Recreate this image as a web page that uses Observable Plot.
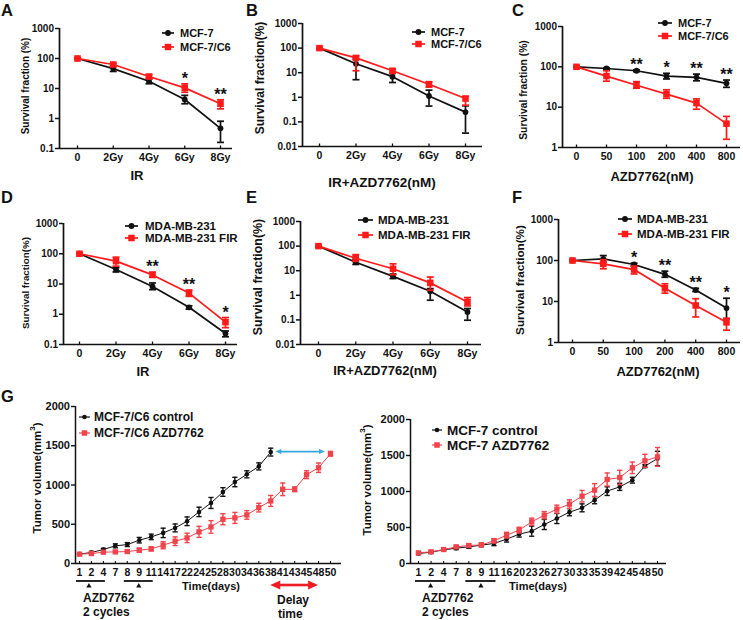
<!DOCTYPE html>
<html><head><meta charset="utf-8">
<script src="https://cdn.jsdelivr.net/npm/d3@7"></script>
<script src="https://cdn.jsdelivr.net/npm/@observablehq/plot@0.6"></script>
<style>
html,body{margin:0;padding:0;background:#fff;}
#fig{position:relative;width:743px;height:620px;overflow:hidden;background:#fff;}
#fig svg{position:absolute;overflow:visible;}
</style></head><body><div id="fig"></div>
<script>
// ---------------- DATA ----------------
const irDoses = ["0", "2Gy", "4Gy", "6Gy", "8Gy"];
const azdDoses = ["0", "50", "100", "200", "400", "800"];
const yTicks01 = [0.1, 1, 10, 100, 1000];
const yTicks001 = [0.01, 0.1, 1, 10, 100, 1000];
const yTicks1 = [1, 10, 100, 1000];
const volTicks = [0, 500, 1000, 1500, 2000];

// A: IR, MCF-7 vs MCF-7/C6
const aMcf7 = [100, 46, 17.5, 4.3, 0.47];
const aMcf7Lo = [96, 37, 14.4, 3.1, 0.16];
const aMcf7Hi = [104, 55, 20.5, 5.9, 0.81];
const aC6 = [100, 63, 25, 10.5, 3.1];
const aC6Lo = [96, 57, 22, 7.5, 2.1];
const aC6Hi = [104, 69, 29, 14.3, 4.2];
const aSig = ["", "", "", "*", "**"];

// B: IR + AZD7762
const bMcf7 = [100, 23, 6.9, 1.13, 0.25];
const bMcf7Lo = [96, 5.2, 4.0, 0.44, 0.035];
const bMcf7Hi = [104, 36, 9.4, 1.95, 0.45];
const bC6 = [100, 40, 12, 3.4, 0.89];
const bC6Lo = [96, 12, 9.4, 2.6, 0.48];
const bC6Hi = [104, 48, 14, 4.3, 1.07];

// C: AZD7762 alone
const cMcf7 = [100, 91, 80, 59, 55, 39];
const cMcf7Lo = [97, 87, 76, 50, 45, 31];
const cMcf7Hi = [103, 95, 84, 69, 66, 47];
const cC6 = [100, 59, 35, 21, 12.6, 3.9];
const cC6Lo = [96, 44, 29.5, 16.6, 8.9, 1.6];
const cC6Hi = [104, 80, 43, 27, 16, 5.9];
const cSig = ["", "", "**", "*", "**", "**"];

// D: IR, MDA-MB-231 vs FIR
const dMda = [100, 30, 8.3, 1.7, 0.23];
const dMdaLo = [96, 25, 6.5, 1.47, 0.18];
const dMdaHi = [104, 35, 10.8, 1.9, 0.28];
const dFir = [100, 57, 20, 5, 0.55];
const dFirLo = [96, 39, 16.7, 3.9, 0.36];
const dFirHi = [104, 77, 24.5, 6.3, 0.78];
const dSig = ["", "", "**", "**", "*"];

// E: IR + AZD7762
const eMda = [100, 22, 5.9, 1.45, 0.21];
const eMdaLo = [96, 18, 4.8, 0.63, 0.097];
const eMdaHi = [104, 29, 7.3, 1.87, 0.29];
const eFir = [100, 32, 12, 3.2, 0.54];
const eFirLo = [96, 24, 6.9, 1.6, 0.37];
const eFirHi = [104, 45, 19, 5.5, 0.81];

// F: AZD7762 alone
const fMda = [100, 110, 80, 46, 19, 6.9];
const fMdaLo = [97, 91, 73, 39, 17.5, 3.8];
const fMdaHi = [103, 132, 86, 55, 21, 12];
const fFir = [100, 83, 60, 21, 8, 3.1];
const fFirLo = [96, 63, 47, 16, 4.2, 2];
const fFirHi = [104, 105, 73, 27, 11.7, 3.9];
const fSig = ["", "", "*", "**", "**", "*"];

// G left: MCF-7/C6 xenograft
const g1Days = ["1","2","4","7","8","9","11","14","17","22","24","25","28","30","34","36","38","41","43","45","48","50"];
const g1Control = [120, 140, 178, 225, 241, 297, 339, 390, 453, 538, 657, 771, 911, 1038, 1136, 1237, 1419];
const g1ControlErr = [10, 15, 15, 25, 25, 35, 35, 60, 50, 55, 60, 70, 55, 60, 45, 45, 50];
const g1Azd = [119, 127, 144, 148, 152, 170, 186, 233, 284, 326, 403, 466, 564, 581, 619, 712, 797, 945, 945, 1131, 1220, 1398];
const g1AzdErr = [10, 15, 15, 15, 15, 25, 25, 45, 55, 60, 70, 80, 70, 70, 55, 55, 70, 80, 30, 50, 60, 30];

// G right: MCF-7 xenograft
const g2Days = ["1","2","4","7","8","9","11","16","20","23","26","27","30","33","35","39","42","45","48","50"];
const g2Control = [139, 157, 190, 213, 231, 255, 278, 338, 407, 449, 542, 625, 713, 773, 880, 1005, 1065, 1157, 1352, 1458];
const g2ControlErr = [15, 15, 15, 20, 20, 20, 30, 40, 40, 70, 70, 70, 50, 55, 50, 60, 50, 40, 20, 100];
const g2Azd = [148, 162, 194, 231, 250, 259, 315, 393, 463, 579, 671, 755, 824, 935, 1019, 1167, 1194, 1329, 1426, 1481];
const g2AzdErr = [15, 15, 15, 20, 20, 25, 30, 40, 40, 50, 50, 55, 60, 80, 90, 90, 100, 80, 90, 130];

// ---------------- STYLE ----------------
const FONT = '"Liberation Sans", Arial, Helvetica, sans-serif';
const RED = "#ff1a1a";
const GRED = "#f0434b";
const BLK = "#111";
const fig = document.getElementById("fig");

const upTick = {draw(ctx, size) { const r = Math.sqrt(size / Math.PI); ctx.moveTo(0, 0); ctx.lineTo(0, -r); }};
const capSym = {draw(ctx, size) { const r = Math.sqrt(size / Math.PI); ctx.moveTo(-r, 0); ctx.lineTo(r, 0); }};

function rowsOf(v, lo, hi) { return v.map((d, i) => ({i, v: d, lo: lo[i], hi: hi[i]})); }

function seriesMarks(rows, color, kind, o) {
  return [
    Plot.line(rows, {x: "i", y: "v", stroke: color, strokeWidth: o.lw}),
    Plot.ruleX(rows, {x: "i", y1: "lo", y2: "hi", stroke: color, strokeWidth: o.ew}),
    Plot.dot(rows, {x: "i", y: "lo", symbol: capSym, r: o.cap, stroke: color, strokeWidth: o.ew, fill: "none"}),
    Plot.dot(rows, {x: "i", y: "hi", symbol: capSym, r: o.cap, stroke: color, strokeWidth: o.ew, fill: "none"}),
    kind === "circle"
      ? Plot.dot(rows, {x: "i", y: "v", r: o.dot, fill: color, stroke: "none"})
      : Plot.dot(rows, {x: "i", y: "v", symbol: "square", r: o.sq, fill: color, stroke: "none"})
  ];
}

function place(svg, cell) {
  svg.style.left = cell.x + "px";
  svg.style.top = cell.y + "px";
  fig.appendChild(svg);
}

function frameOpts(cell, geo, n) {
  const step = (geo.xLast - geo.xFirst) / (n - 1);
  const d0 = -(geo.xFirst - geo.yAxis) / step;
  const d1 = (n - 1) + (geo.xEnd - geo.xLast) / step;
  return {
    d0, d1,
    opts: {
      width: cell.w, height: cell.h,
      marginLeft: geo.yAxis - cell.x,
      marginRight: cell.x + cell.w - geo.xEnd,
      marginTop: geo.yTop - cell.y,
      marginBottom: cell.y + cell.h - geo.yBot,
      style: {fontFamily: FONT, fontWeight: "bold", fontSize: "10px", color: BLK, background: "none", overflow: "visible"}
    }
  };
}

function survival(cell, geo, cats, yTicks, s1, s2, sig) {
  const n = cats.length;
  const {d0, d1, opts} = frameOpts(cell, geo, n);
  const r1 = rowsOf(...s1), r2 = rowsOf(...s2);
  const idx = cats.map((c, i) => i);
  const yMin = yTicks[0];
  const stars = sig ? idx.filter(i => sig[i]).map(i => ({i, t: sig[i], y: Math.max(r1[i].hi, r2[i].hi)})) : [];
  const o = {lw: 1.7, ew: 1.7, cap: 3.5, dot: 2.9, sq: 3.7};
  const svg = Plot.plot({
    ...opts,
    x: {domain: [d0, d1]},
    y: {type: "log", domain: [yMin, yTicks[yTicks.length - 1]]},
    marks: [
      Plot.ruleY([yMin], {stroke: BLK, strokeWidth: 1.7}),
      Plot.ruleX([d0], {stroke: BLK, strokeWidth: 1.7}),
      Plot.axisY(yTicks, {tickSize: 4, tickPadding: 1.5, strokeWidth: 1.5, tickFormat: d => String(d), label: null, fontSize: 10}),
      Plot.axisX(idx, {tickSize: 0, tickPadding: 5.5, tickFormat: i => cats[i], label: null, fontSize: 10.5}),
      Plot.dot(idx, {x: d => d, y: () => yMin, symbol: upTick, r: 3, stroke: BLK, strokeWidth: 1.3, fill: "none"}),
      ...seriesMarks(r1, BLK, "circle", o),
      ...seriesMarks(r2, RED, "square", o),
      Plot.text(stars, {x: "i", y: "y", text: "t", dy: -5, fontSize: 16, fontWeight: "bold", fill: BLK, lineAnchor: "middle"})
    ]
  });
  place(svg, cell);
  return svg;
}

function growth(cell, geo, days, ctl, ctlErr, azd, azdErr) {
  const n = days.length;
  const {d0, d1, opts} = frameOpts(cell, geo, n);
  const idx = days.map((d, i) => i);
  const r1 = ctl.map((v, i) => ({i, v, lo: v - ctlErr[i], hi: v + ctlErr[i]}));
  const r2 = azd.map((v, i) => ({i, v, lo: v - azdErr[i], hi: v + azdErr[i]}));
  const o1 = {lw: 1, ew: 1.4, cap: 2.6, dot: 2.3};
  const o2 = {lw: 1, ew: 1.4, cap: 2.6, sq: 3.0};
  const plot = Plot.plot({
    ...opts,
    x: {domain: [d0, d1]},
    y: {domain: [volTicks[0], volTicks[volTicks.length - 1]]},
    marks: [
      Plot.ruleY([volTicks[0]], {stroke: BLK, strokeWidth: 1.5}),
      Plot.ruleX([d0], {stroke: BLK, strokeWidth: 1.5}),
      Plot.axisY(volTicks, {tickSize: 4, tickPadding: 1.5, strokeWidth: 1.4, label: null, fontSize: 11, tickFormat: d => String(d)}),
      Plot.axisX(idx, {tickSize: 0, tickPadding: 5, tickFormat: i => days[i], label: null, fontSize: 10.5}),
      Plot.dot(idx, {x: d => d, y: () => volTicks[0], symbol: upTick, r: 2.5, stroke: BLK, strokeWidth: 1.1, fill: "none"}),
      ...seriesMarks(r1, BLK, "circle", o1),
      ...seriesMarks(r2, GRED, "square", o2)
    ]
  });
  place(plot, cell);
  return plot;
}

// ---------------- PANELS ----------------
survival({x: 0, y: 0, w: 245, h: 195}, {yAxis: 59, yTop: 28, yBot: 148, xFirst: 77, xLast: 220, xEnd: 232},
  irDoses, yTicks01, [aMcf7, aMcf7Lo, aMcf7Hi], [aC6, aC6Lo, aC6Hi], aSig);
survival({x: 245, y: 0, w: 245, h: 195}, {yAxis: 302, yTop: 23, yBot: 146, xFirst: 319, xLast: 465, xEnd: 482},
  irDoses, yTicks001, [bMcf7, bMcf7Lo, bMcf7Hi], [bC6, bC6Lo, bC6Hi], null);
survival({x: 490, y: 0, w: 253, h: 195}, {yAxis: 562, yTop: 26, yBot: 147, xFirst: 576, xLast: 726, xEnd: 740},
  azdDoses, yTicks1, [cMcf7, cMcf7Lo, cMcf7Hi], [cC6, cC6Lo, cC6Hi], cSig);
survival({x: 0, y: 195, w: 245, h: 195}, {yAxis: 63, yTop: 223, yBot: 344, xFirst: 79, xLast: 225, xEnd: 237},
  irDoses, yTicks01, [dMda, dMdaLo, dMdaHi], [dFir, dFirLo, dFirHi], dSig);
survival({x: 245, y: 195, w: 245, h: 195}, {yAxis: 300, yTop: 221, yBot: 344, xFirst: 318, xLast: 467, xEnd: 481},
  irDoses, yTicks001, [eMda, eMdaLo, eMdaHi], [eFir, eFirLo, eFirHi], null);
survival({x: 490, y: 195, w: 253, h: 195}, {yAxis: 558, yTop: 219, yBot: 342, xFirst: 572, xLast: 726, xEnd: 740},
  azdDoses, yTicks1, [fMda, fMdaLo, fMdaHi], [fFir, fFirLo, fFirHi], fSig);

const cellG1 = {x: 0, y: 390, w: 370, h: 230};
const cellG2 = {x: 370, y: 390, w: 373, h: 230};
const pG1 = growth(cellG1, {yAxis: 75, yTop: 406, yBot: 563, xFirst: 79, xLast: 330, xEnd: 341},
  g1Days, g1Control, g1ControlErr, g1Azd, g1AzdErr);
const pG2 = growth(cellG2, {yAxis: 410, yTop: 419, yBot: 563, xFirst: 418, xLast: 657, xEnd: 666},
  g2Days, g2Control, g2ControlErr, g2Azd, g2AzdErr);

// ---------------- ANNOTATIONS ----------------
const ov = d3.select(fig).append("svg").attr("width", 743).attr("height", 620)
  .style("left", "0px").style("top", "0px")
  .style("font-family", FONT).style("font-weight", "bold").attr("fill", BLK);

function txt(t, x, y, size, anchor = "start", base = "auto") {
  return ov.append("text").attr("x", x).attr("y", y).attr("font-size", size)
    .attr("text-anchor", anchor).attr("dominant-baseline", base).text(t);
}
function vtxt(t, x, y, size) {
  return ov.append("text").attr("transform", `translate(${x},${y}) rotate(-90)`)
    .attr("font-size", size).attr("text-anchor", "middle").attr("dominant-baseline", "central").text(t);
}

// panel letters
[["A", 1, 16], ["B", 246, 16], ["C", 512, 16], ["D", 1, 203], ["E", 246, 203], ["F", 512, 203], ["G", 1, 402]]
  .forEach(([t, x, y]) => txt(t, x, y, 16.5));

// y labels
vtxt("Survival fraction (%)", 25, 86, 10);
vtxt("Survival fraction(%)", 260, 78, 12);
vtxt("Survival fraction (%)", 523, 90, 10.3);
vtxt("Survival fraction(%)", 25, 283, 9.8);
vtxt("Survival fraction(%)", 258, 277, 12.4);
vtxt("Survival fraction(%)", 519, 280, 11.7);
function volLabel(x, y, size) {
  const t = ov.append("text").attr("transform", `translate(${x},${y}) rotate(-90)`)
    .attr("font-size", size).attr("text-anchor", "middle").attr("dominant-baseline", "central");
  t.append("tspan").text("Tumor volume(mm");
  t.append("tspan").attr("font-size", size * 0.7).attr("dy", -size * 0.4).text("3");
  t.append("tspan").attr("dy", size * 0.4).text(")");
}
volLabel(37, 478, 11.5);
volLabel(367, 480, 11.5);

// x labels
txt("IR", 137, 175, 13, "middle", "central");
txt("IR+AZD7762(nM)", 382, 182, 13.5, "middle", "central");
txt("AZD7762(nM)", 652, 176, 13, "middle", "central");
txt("IR", 143, 371, 13, "middle", "central");
txt("IR+AZD7762(nM)", 385, 370, 13, "middle", "central");
txt("AZD7762(nM)", 658, 371, 13, "middle", "central");
txt("Time(days)", 211, 590, 11, "middle");
txt("Time(days)", 538, 590, 11, "middle");

// legends
function legend(entries, lx1, lx2, tx, size, lw, dotR, sq) {
  entries.forEach(([name, color, kind, y]) => {
    ov.append("line").attr("x1", lx1).attr("x2", lx2).attr("y1", y).attr("y2", y)
      .attr("stroke", color).attr("stroke-width", lw);
    const mx = (lx1 + lx2) / 2;
    if (kind === "circle") ov.append("circle").attr("cx", mx).attr("cy", y).attr("r", dotR).attr("fill", color);
    else ov.append("rect").attr("x", mx - sq / 2).attr("y", y - sq / 2).attr("width", sq).attr("height", sq).attr("fill", color);
    txt(name, tx, y, size, "start", "central");
  });
}
legend([["MCF-7", BLK, "circle", 33], ["MCF-7/C6", RED, "square", 47]], 162, 174, 180, 11, 1.7, 2.9, 6.5);
legend([["MCF-7", BLK, "circle", 32], ["MCF-7/C6", RED, "square", 44]], 412, 425, 431, 11, 1.7, 2.9, 6.5);
legend([["MCF-7", BLK, "circle", 23], ["MCF-7/C6", RED, "square", 36]], 658, 672, 678, 11, 1.7, 2.9, 6.5);
legend([["MDA-MB-231", BLK, "circle", 226], ["MDA-MB-231 FIR", RED, "square", 238]], 125, 138, 145, 11.5, 1.7, 2.9, 6.5);
legend([["MDA-MB-231", BLK, "circle", 220], ["MDA-MB-231 FIR", RED, "square", 235]], 358, 373, 378, 11.5, 1.7, 2.9, 6.5);
legend([["MDA-MB-231", BLK, "circle", 219], ["MDA-MB-231 FIR", RED, "square", 234]], 618, 632, 637, 11.5, 1.7, 2.9, 6.5);
legend([["MCF-7/C6 control", BLK, "circle", 417], ["MCF-7/C6 AZD7762", GRED, "square", 433]], 79, 90, 94, 12, 1.2, 2.3, 5.5);
legend([["MCF-7 control", BLK, "circle", 430], ["MCF-7 AZD7762", GRED, "square", 445]], 432, 442, 447, 13.5, 1.2, 2.3, 5.5);

// treatment cycle bars (tied to the day scale)
function cycles(plot, cell) {
  const xs = plot.scale("x"), ys = plot.scale("y");
  const X = v => cell.x + xs.apply(v);
  const yl = cell.y + ys.apply(volTicks[0]) + 18;
  [[0, 2, 1], [4, 6, 5]].forEach(([a, b, m]) => {
    ov.append("line").attr("x1", X(a) - 3).attr("x2", X(b) + 2).attr("y1", yl).attr("y2", yl)
      .attr("stroke", BLK).attr("stroke-width", 1.8);
    const tx = X(m) - (cell.x === 0 && m === 1 ? 2 : 0);
    ov.append("polygon").attr("points", `${tx},${yl + 2} ${tx - 2.6},${yl + 6.5} ${tx + 2.6},${yl + 6.5}`).attr("fill", BLK);
  });
  const x0 = X(0) + 1;
  txt("AZD7762", x0 + 3, yl + 21, 12);
  txt("2 cycles", x0 + 3, yl + 35, 12);
  return {X, ys};
}
const g1 = cycles(pG1, cellG1);
cycles(pG2, cellG2);

function dblArrow(xa, xb, y, color, lw, L, H) {
  ov.append("line").attr("x1", xa + L - 1).attr("x2", xb - L + 1).attr("y1", y).attr("y2", y)
    .attr("stroke", color).attr("stroke-width", lw);
  ov.append("polygon").attr("points", `${xa},${y} ${xa + L},${y - H / 2} ${xa + L},${y + H / 2}`).attr("fill", color);
  ov.append("polygon").attr("points", `${xb},${y} ${xb - L},${y - H / 2} ${xb - L},${y + H / 2}`).attr("fill", color);
}
// growth delay: control reaches its end at day 38, treated at day 50
const iEndCtl = g1Control.length - 1, iEndAzd = g1Azd.length - 1;
dblArrow(g1.X(iEndCtl) + 5, g1.X(iEndAzd) - 5, cellG1.y + g1.ys.apply(g1Control[iEndCtl]), "#35a8dd", 1.6, 6, 5);
dblArrow(g1.X(iEndCtl), g1.X(iEndCtl + 4), 585, "#ee1c25", 2.6, 10, 9);
txt("Delay", 277, 604, 12);
txt("time", 278, 618, 12);
</script></body></html>
